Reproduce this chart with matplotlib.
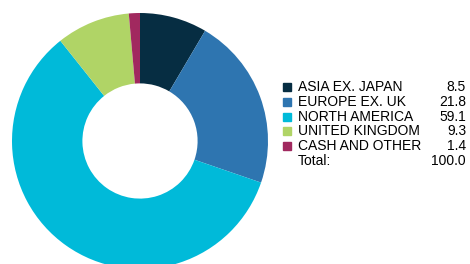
import matplotlib.pyplot as plt
from matplotlib.patches import Rectangle

# Regional allocation (%)
labels = ['ASIA EX. JAPAN', 'EUROPE EX. UK', 'NORTH AMERICA',
          'UNITED KINGDOM', 'CASH AND OTHER']
values = [8.5, 21.8, 59.1, 9.3, 1.4]
total_label = 'Total:'
total_value = 100.0
colors = ['#062d42', '#2e75b0', '#00bad9', '#b0d466', '#a1295f']

W, H = 470, 264
fig = plt.figure(figsize=(W / 100, H / 100), dpi=100)
plt.rcParams['font.family'] = ['Liberation Sans', 'DejaVu Sans']

# donut: centre ~(140, 141) px, radius ~128 px
cx, cy, r = 140, 141, 128
ax = fig.add_axes([(cx - r) / W, (H - cy - r) / H, 2 * r / W, 2 * r / H])
ax.pie(values, colors=colors, startangle=90, counterclock=False,
       radius=1, wedgeprops=dict(width=0.55, linewidth=0))
ax.set_xlim(-1, 1)
ax.set_ylim(-1, 1)
ax.set_aspect('equal')
ax.axis('off')

# legend table
fs = 10
y0, dy = 87, 14.8
for i, (lab, val, col) in enumerate(zip(labels, values, colors)):
    y = y0 + i * dy
    fig.patches.append(Rectangle((283 / W, 1 - (y + 4) / H), 8 / W, 8 / H,
                                 transform=fig.transFigure, color=col))
    fig.text(298 / W, 1 - y / H, lab, fontsize=fs, va='center', ha='left')
    fig.text(466 / W, 1 - y / H, f'{val:.1f}', fontsize=fs,
             va='center', ha='right')
y = y0 + len(labels) * dy
fig.text(298 / W, 1 - y / H, total_label, fontsize=fs, va='center', ha='left')
fig.text(466 / W, 1 - y / H, f'{total_value:.1f}', fontsize=fs,
         va='center', ha='right')

fig.savefig('out.png', dpi=100)
